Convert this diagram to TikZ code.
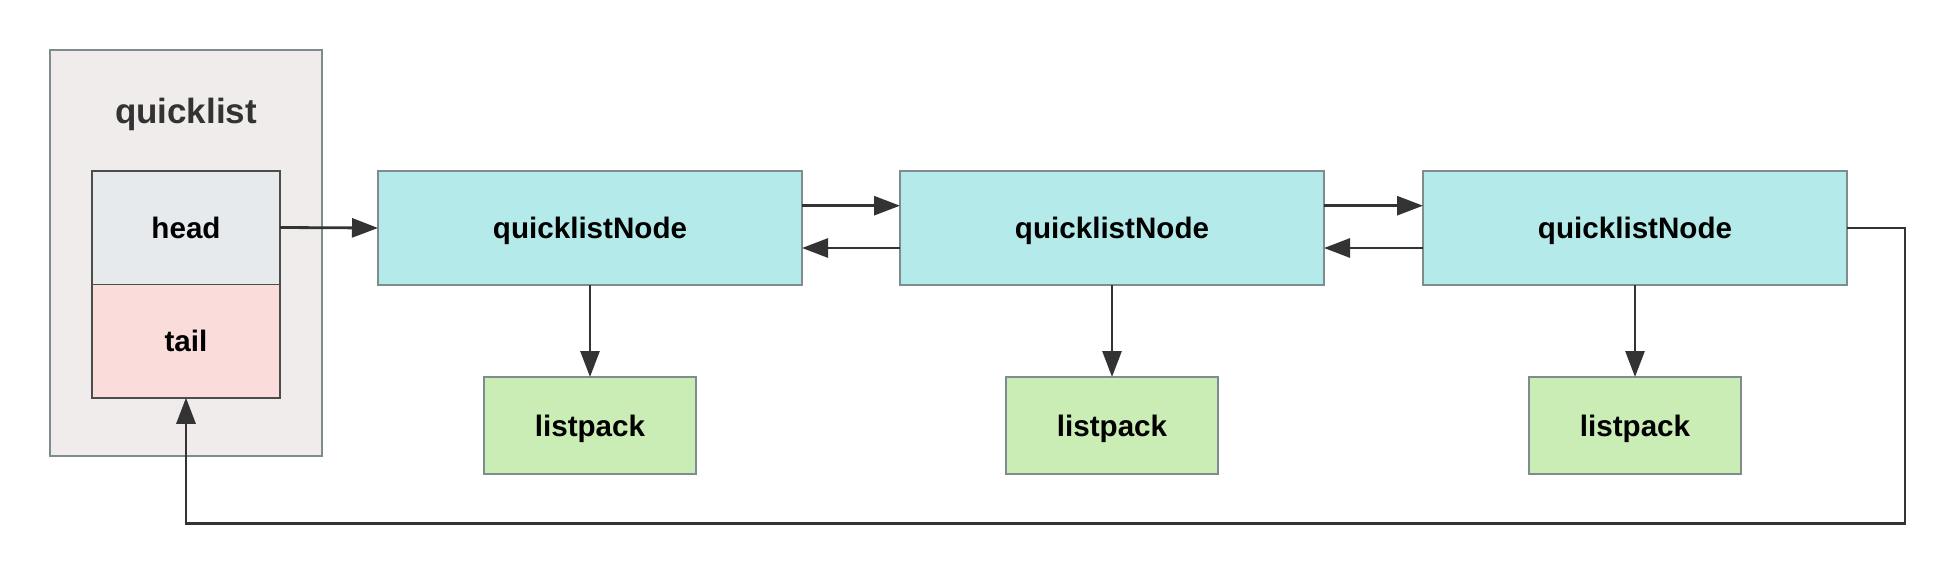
\documentclass[tikz,border=0pt]{standalone}
\usepackage{fontspec}
\setmainfont{Liberation Sans}
\usetikzlibrary{arrows.meta}
\definecolor{outerfill}{HTML}{F0ECEB}
\definecolor{headfill}{HTML}{E6EAED}
\definecolor{tailfill}{HTML}{FADCDB}
\definecolor{nodefill}{HTML}{B5EAEA}
\definecolor{lpfill}{HTML}{C9EDB4}
\definecolor{boxline}{HTML}{7F8C8D}
\definecolor{arrowc}{HTML}{333333}
\tikzset{
  box/.style={draw=boxline, line width=1.5pt, inner sep=0pt, outer sep=0pt,
    font=\fontsize{29.6}{34}\selectfont\bfseries, text height=21.3pt, text depth=0pt},
  qnode/.style={box, fill=nodefill, minimum width=424pt, minimum height=114pt},
  lpnode/.style={box, fill=lpfill, minimum width=212pt, minimum height=97pt},
  cell/.style={box, draw=black!70, minimum width=188pt, minimum height=113.5pt},
  conn/.style={draw=arrowc, line width=2.8pt, -{Triangle[length=26pt,width=19pt]}},
}
\begin{document}
\begin{tikzpicture}[x=1pt,y=-1pt]
\useasboundingbox (0,0) rectangle (1954,573);
\fill[white] (0,0) rectangle (1954,573);
% quicklist container
\node[box, fill=outerfill, minimum width=272pt, minimum height=406pt, anchor=north west] (ql) at (50,50) {};
\node[font=\fontsize{35}{40}\selectfont\bfseries, text=black!80, text height=25.2pt, text depth=0pt, inner sep=0pt] (qltitle) at (186,111) {quicklist};
\node[cell, fill=headfill] (head) at (186,227.5) {head};
\node[cell, fill=tailfill] (tail) at (186,341) {tail};
% quicklist nodes
\node[qnode] (n1) at (590,228) {quicklistNode};
\node[qnode] (n2) at (1112,228) {quicklistNode};
\node[qnode] (n3) at (1635,228) {quicklistNode};
% listpacks
\node[lpnode] (l1) at (590,425.5) {listpack};
\node[lpnode] (l2) at (1112,425.5) {listpack};
\node[lpnode] (l3) at (1635,425.5) {listpack};
% connectors
\draw[conn] (head.east) -- (n1.west);
\draw[conn] ([yshift=22.3pt]n1.east) -- ([yshift=22.3pt]n2.west);
\draw[conn] ([yshift=-20pt]n2.west) -- ([yshift=-20pt]n1.east);
\draw[conn] ([yshift=22.3pt]n2.east) -- ([yshift=22.3pt]n3.west);
\draw[conn] ([yshift=-20pt]n3.west) -- ([yshift=-20pt]n2.east);
\draw[conn] (n1.south) -- (l1.north);
\draw[conn] (n2.south) -- (l2.north);
\draw[conn] (n3.south) -- (l3.north);
\coordinate (loopR) at (1905,228);
\coordinate (loopB) at (1905,523.5);
\coordinate (loopL) at (186,523.5);
\draw[conn] (n3.east) -- (loopR) -- (loopB) -- (loopL) -- (tail.south);
\end{tikzpicture}
\end{document}
